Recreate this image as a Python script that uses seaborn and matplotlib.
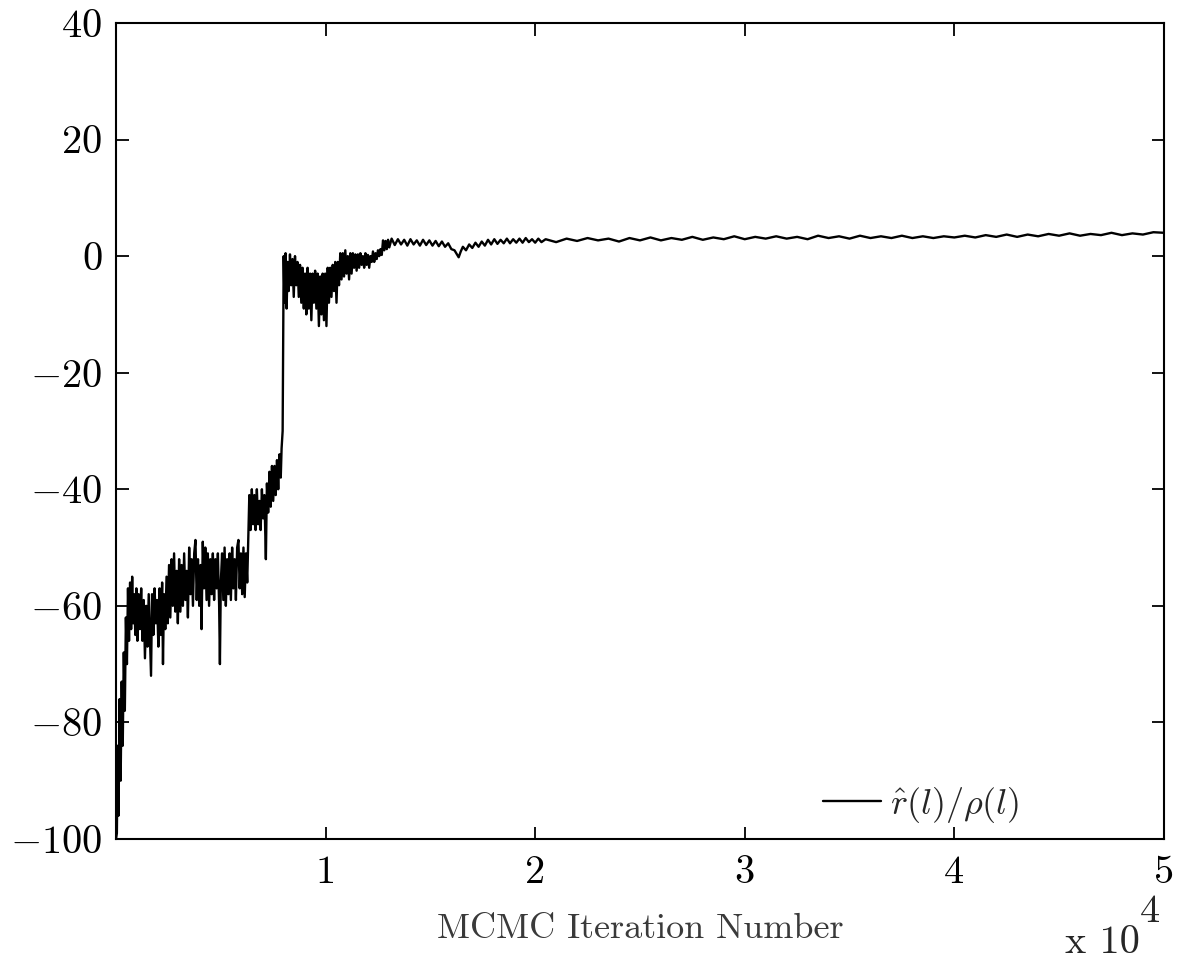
import matplotlib
matplotlib.use("Agg")
import matplotlib.pyplot as plt
import seaborn as sns
from matplotlib.ticker import FuncFormatter

# MCMC trace of r_hat(l)/rho(l), piece by piece
burn_iters = [0, 40, 80, 120, 170, 220, 270, 320, 370, 420, 470, 520, 570, 620, 670,
              720, 770, 820, 870, 920, 970]
burn_vals = [-100, -99, -84, -96, -76, -90, -73, -84, -68, -78, -62, -70, -57, -66, -56,
             -64, -55, -63, -58, -65, -57]

low_iters = [1020, 1080, 1140, 1200, 1260, 1320, 1380, 1440, 1500, 1560, 1620, 1670,
             1720, 1780, 1840, 1900, 1960, 2020,
             2080, 2140, 2200, 2240, 2290, 2350, 2410, 2470, 2530, 2590, 2650, 2710,
             2770, 2830, 2890, 2950,
             3010, 3070, 3130, 3190, 3250, 3310, 3370, 3430, 3490, 3550, 3610, 3670,
             3730, 3790, 3850, 3910, 3970,
             4030, 4080, 4140, 4200, 4260, 4320, 4380, 4440, 4500, 4560, 4620, 4680,
             4740, 4800, 4860, 4920, 4957, 5000,
             5060, 5120, 5180, 5240, 5300, 5360, 5420, 5480, 5540, 5600, 5660, 5720,
             5780, 5840, 5900, 5960, 6020, 6080, 6140, 6200, 6260]
low_vals = [-66, -58, -64, -57, -66, -59, -69, -60, -67, -58, -66, -72,
            -58, -65, -57, -63, -59, -67,
            -57, -65, -56, -70, -58, -64, -55, -63, -53, -62, -52, -60,
            -51, -61, -54, -63,
            -52, -61, -53, -60, -51, -59, -54, -62, -50, -58, -52, -60,
            -51, -48.7, -59, -52, -60,
            -53, -64, -49, -57, -50, -59, -51, -60, -52, -58, -51, -59,
            -52, -57, -51, -60, -70, -56,
            -51, -59, -50, -60, -52, -58, -51, -59, -50, -57, -52, -59,
            -50, -48.7, -57, -51, -58, -50, -58.5, -51, -56]

step_iters = [6320, 6360, 6420, 6480, 6540, 6600, 6660, 6720, 6780, 6840, 6900, 6960,
              7020, 7080, 7150, 7200, 7260, 7320, 7380, 7440, 7500, 7560, 7620, 7680,
              7740, 7800, 7860, 7900, 7950, 7980]
step_vals = [-47, -41, -47, -40, -46, -41, -47, -40, -46, -42, -47, -40,
             -45, -41, -52, -39, -44, -37, -43, -36, -42, -36, -41, -35,
             -40, -34, -38, -33, -30, -12]

jump_iters = [8000, 8040, 8090, 8140, 8190, 8240, 8300, 8360, 8420, 8480,
              8540, 8600, 8660, 8720, 8780, 8840, 8900, 8960, 9020, 9080,
              9140, 9200, 9260, 9320, 9380, 9440, 9500, 9560, 9620, 9680,
              9740, 9800, 9860, 9920, 9980, 10040, 10100, 10160, 10220, 10280,
              10340, 10400, 10460, 10520, 10580, 10640, 10700, 10760, 10820, 10880,
              10940, 11000, 11060, 11120, 11180, 11240, 11300, 11360, 11420, 11480,
              11540, 11600, 11660, 11720, 11780, 11840, 11900, 11960, 12020, 12080,
              12140, 12200, 12260, 12320, 12380, 12440, 12500, 12560, 12620, 12680,
              12740, 12800, 12860, 12920, 12980, 13040]
jump_vals = [0, -8, 0.5, -9, -1, -6, 0.3, -5, -0.5, -7,
             0, -5, -1, -7, -1.5, -8, -2, -9, -3, -10,
             -2, -9, -3, -11, -3, -8, -2.5, -9, -3, -12,
             -3.5, -10, -3, -11, -3, -12, -2, -8, -2, -7,
             -1.5, -6, -1, -8, -1, -5, 0.5, -4, 0.5, -3.5,
             1, -3, 0, -4, 0.5, -3, 0.5, -2, 0.3, -2.5,
             0.3, -2, 0.5, -1.5, 0, -2, 0.5, -1.5, 0.2, -2,
             0, -1, 0.8, -1, 0.5, -0.5, 1, 0, 1.2, 0.2,
             2.7, 1.0, 2.6, 1.2, 2.8, 1.5]

settle_iters = [13150, 13300, 13450, 13600, 13750, 13900, 14050, 14200, 14350, 14500,
                14650, 14800, 14950, 15100, 15250, 15400, 15550, 15700, 15850, 16000,
                16150, 16250, 16350, 16450, 16550, 16700, 16850, 17000, 17150, 17300,
                17450, 17600, 17750, 17900, 18050, 18200, 18350, 18500, 18650, 18800,
                18950, 19100, 19250, 19400, 19550, 19700, 19850, 20000, 20150, 20300]
settle_vals = [3, 1.9, 2.9, 2.0, 2.8, 1.8, 2.9, 2.0, 2.7, 1.8,
               2.8, 1.9, 2.7, 1.8, 2.6, 1.7, 2.5, 1.6, 2.2, 1.2,
               1.0, 0.4, -0.2, 0.8, 1.6, 1.0, 2.0, 1.4, 2.3, 1.6,
               2.5, 1.8, 2.8, 2.0, 2.9, 2.1, 2.8, 2.2, 3.0, 2.2,
               2.9, 2.3, 3.0, 2.3, 3.1, 2.4, 2.9, 2.3, 3.0, 2.4]

flat_iters = [20500, 21000, 21500, 22000, 22500, 23000, 23500, 24000, 24500, 25000,
              25500, 26000, 26500, 27000, 27500, 28000, 28500, 29000, 29500, 30000,
              30500, 31000, 31500, 32000, 32500, 33000, 33500, 34000, 34500, 35000,
              35500, 36000, 36500, 37000, 37500, 38000, 38500, 39000, 39500, 40000,
              40500, 41000, 41500, 42000, 42500, 43000, 43500, 44000, 44500, 45000,
              45500, 46000, 46500, 47000, 47500, 48000, 48500, 49000, 49500, 50000]
flat_vals = [2.9, 2.4, 3.0, 2.6, 3.1, 2.7, 3.0, 2.5, 3.1, 2.7,
             3.2, 2.7, 3.1, 2.8, 3.3, 2.8, 3.2, 2.9, 3.4, 2.9,
             3.3, 3.0, 3.4, 3.0, 3.3, 2.9, 3.5, 3.1, 3.4, 3.0,
             3.5, 3.1, 3.4, 3.1, 3.5, 3.1, 3.4, 3.1, 3.4, 3.2,
             3.5, 3.2, 3.6, 3.3, 3.7, 3.3, 3.7, 3.4, 3.8, 3.5,
             3.9, 3.5, 3.8, 3.6, 4.0, 3.6, 3.9, 3.7, 4.1, 4.0]

xticks = [10000, 20000, 30000, 40000, 50000]
xtick_labels = ["1", "2", "3", "4", "5"]
yticks = [-100, -80, -60, -40, -20, 0, 20, 40]

iters = burn_iters + low_iters + step_iters + jump_iters + settle_iters + flat_iters
ratio = burn_vals + low_vals + step_vals + jump_vals + settle_vals + flat_vals

sns.set_style("ticks")
plt.rcParams["font.family"] = ["cmr10", "DejaVu Serif"]
plt.rcParams["mathtext.fontset"] = "cm"
plt.rcParams["axes.unicode_minus"] = True

fig = plt.figure(figsize=(11.78, 9.65), dpi=100)
ax = fig.add_axes([0.0985, 0.1306, 0.8895, 0.8456])

sns.lineplot(x=iters, y=ratio, ax=ax, color="black", lw=1.7, sort=False,
             estimator=None, label=r"$\hat{r}(l)/\rho(l)$")

ax.set_xlim(0, 50000)
ax.set_ylim(-100, 40)
ax.set_xticks(xticks)
ax.set_xticklabels(xtick_labels)
ax.set_yticks(yticks)
ax.yaxis.set_major_formatter(FuncFormatter(lambda v, p: f"${v:g}$"))
ax.tick_params(direction="in", length=9, width=1.3, top=True, right=True,
               labelsize=29, colors="black")
ax.tick_params(axis="y", pad=10)
ax.tick_params(axis="x", pad=12)
for s in ax.spines.values():
    s.set_linewidth(1.5)
    s.set_color("black")

ax.set_xlabel("MCMC Iteration Number", fontsize=26, color="#3a3a3a", labelpad=16)
ax.set_ylabel("")

leg = ax.legend(loc="center right", bbox_to_anchor=(0.862, 0.042), frameon=False,
                fontsize=26, handlelength=1.6, handletextpad=0.25,
                borderpad=0, borderaxespad=0)

fig.text(0.904, 0.012, "x 10", fontsize=29, ha="left", va="baseline")
fig.text(0.968, 0.045, "4", fontsize=29, ha="left", va="baseline")

fig.savefig("out.png", dpi=100)
